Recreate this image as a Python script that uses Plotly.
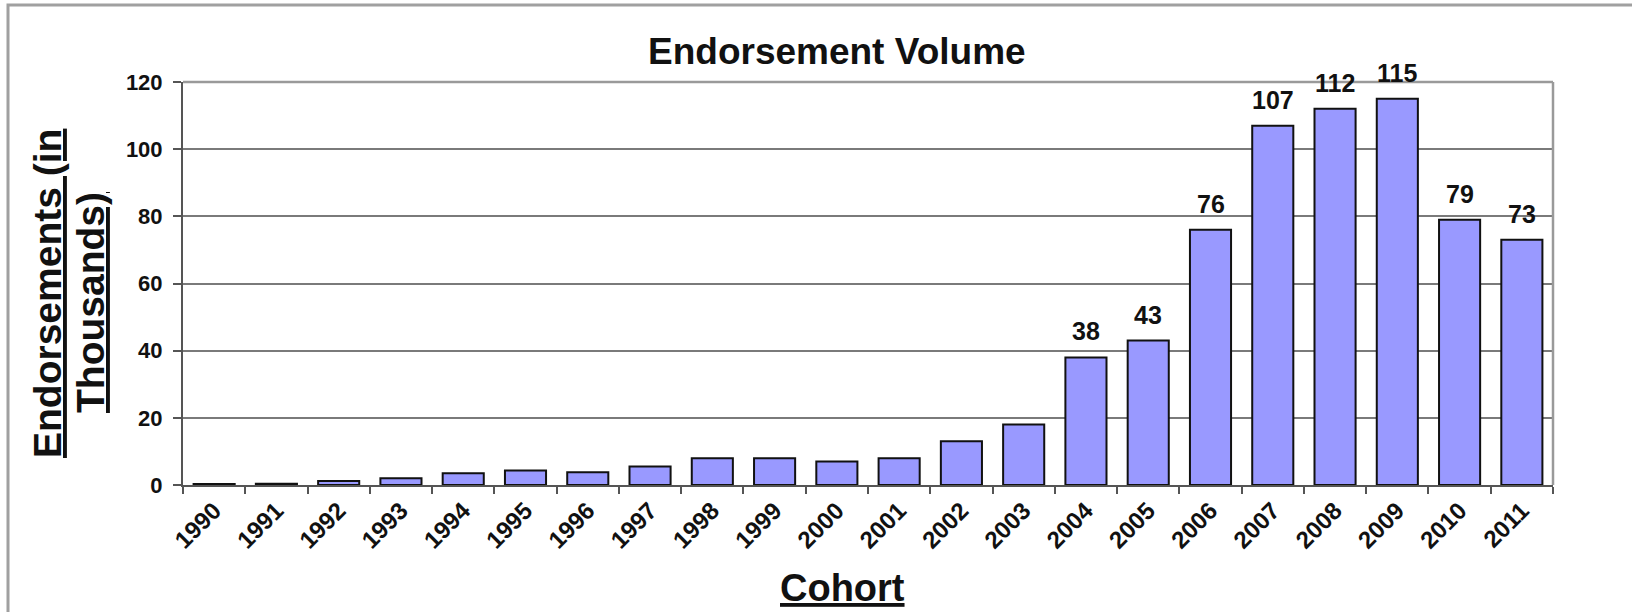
import plotly.graph_objects as go

years = [str(y) for y in range(1990, 2012)]
values = [0.3, 0.4, 1.2, 2.0, 3.5, 4.3, 3.8, 5.5, 8.0, 8.0, 7.0, 8.0,
          13.0, 18.0, 38, 43, 76, 107, 112, 115, 79, 73]
labels = ["" if v < 30 else str(int(round(v))) for v in values]
y_ticks = [0, 20, 40, 60, 80, 100, 120]

FONT = "Liberation Sans, Arial, sans-serif"

# plot area in pixels
W, H = 1632, 612
L, R, T, B = 183, 1553, 82, 485
PW, PH = R - L, B - T

def px(x):
    return (x - L) / PW

def py(y):
    return (B - y) / PH

fig = go.Figure()
fig.add_trace(go.Bar(
    x=years, y=values,
    marker=dict(color="#9999FF", line=dict(color="#111111", width=2)),
    width=0.66,
    cliponaxis=False,
))

# data labels above bars (x given as category index)
for i, (v, lab) in enumerate(zip(values, labels)):
    if lab:
        fig.add_annotation(x=i, y=v, xref="x", yref="y", text=lab,
                           showarrow=False,
                           xanchor="center", yanchor="middle", yshift=26,
                           font=dict(family=FONT, size=25, color="#111111",
                                     weight="bold"))

fig.update_layout(
    width=W, height=H,
    margin=dict(l=L, r=W - R, t=T, b=H - B, pad=0),
    paper_bgcolor="white", plot_bgcolor="white",
    showlegend=False,
    font=dict(family=FONT, color="#111111"),
    xaxis=dict(
        type="category", categoryorder="array", categoryarray=years,
        range=[-0.5, len(years) - 0.5],
        tickangle=-45, tickson="boundaries",
        ticks="outside", ticklen=7, tickcolor="#555555", tickwidth=1.5,
        showline=True, linecolor="#555555", linewidth=2,
        tickfont=dict(family=FONT, size=24, color="#111111", weight="bold"),
        showgrid=False, mirror=False,
    ),
    yaxis=dict(
        range=[0, 120], tickvals=y_ticks,
        ticks="outside", ticklen=8, tickcolor="#555555", tickwidth=1.5,
        ticklabelstandoff=6,
        showline=True, linecolor="#555555", linewidth=2,
        tickfont=dict(family=FONT, size=22, color="#111111", weight="bold"),
        showgrid=True, gridcolor="#7a7a7a", gridwidth=1.5,
        zeroline=False,
    ),
)

# top and right border of plot area (gray)
fig.add_shape(type="line", xref="paper", yref="paper", x0=0, x1=1, y0=1, y1=1,
              line=dict(color="#9a9a9a", width=2.5))
fig.add_shape(type="line", xref="paper", yref="paper", x0=1, x1=1, y0=0, y1=1,
              line=dict(color="#9a9a9a", width=2.5))

# outer chart frame
fig.add_shape(type="rect", xref="paper", yref="paper",
              x0=px(8), x1=px(1645), y0=py(5), y1=py(625),
              line=dict(color="#a0a0a0", width=3), layer="below")

fig.add_annotation(text="<b>Endorsement Volume</b>", xref="paper", yref="paper",
                   x=px(837), y=py(52), showarrow=False,
                   font=dict(family=FONT, size=37, color="#111111"),
                   xanchor="center", yanchor="middle")
fig.add_annotation(text="<b><u>Endorsements (in</u></b>",
                   xref="paper", yref="paper", x=px(47), y=py(294),
                   showarrow=False, textangle=-90,
                   font=dict(family=FONT, size=39, color="#111111"),
                   xanchor="center", yanchor="middle")
fig.add_annotation(text="<b><u>Thousands)</u></b>",
                   xref="paper", yref="paper", x=px(90), y=py(303),
                   showarrow=False, textangle=-90,
                   font=dict(family=FONT, size=39, color="#111111"),
                   xanchor="center", yanchor="middle")
fig.add_annotation(text="<b><u>Cohort</u></b>", xref="paper", yref="paper",
                   x=px(842), y=py(588), showarrow=False,
                   font=dict(family=FONT, size=38, color="#111111"),
                   xanchor="center", yanchor="middle")

fig.write_html("out.html")
